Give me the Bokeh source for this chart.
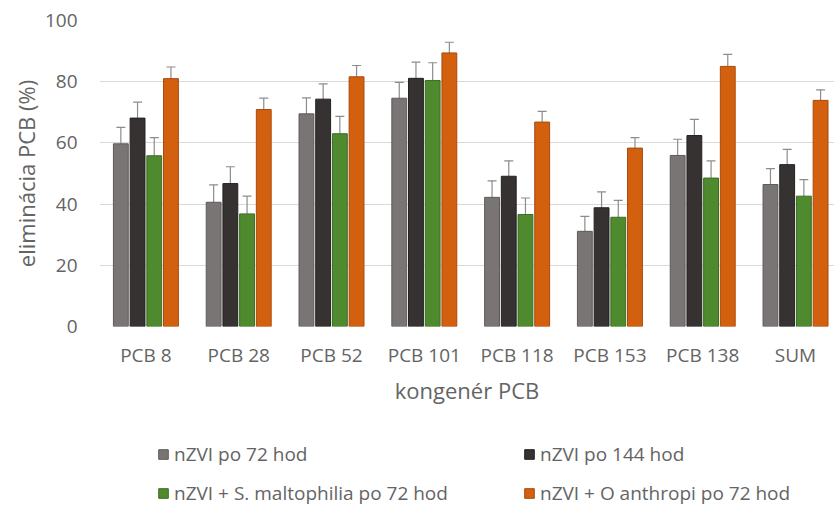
from bokeh.plotting import figure
from bokeh.layouts import column
from bokeh.models import (ColumnDataSource, Range1d, FixedTicker, Whisker, TeeHead,
                          Legend, LegendItem)
from bokeh.transform import dodge
from bokeh.embed import file_html
from bokeh.resources import INLINE

categories = ["PCB 8", "PCB 28", "PCB 52", "PCB 101", "PCB 118", "PCB 153", "PCB 138", "SUM"]
series_names = ["nZVI po 72 hod", "nZVI po 144 hod",
                "nZVI + S. maltophilia po 72 hod", "nZVI + O anthropi po 72 hod"]
nzvi_72 = [59.7, 40.6, 69.5, 74.6, 42.2, 31.1, 55.9, 46.4]
nzvi_144 = [68.1, 46.7, 74.3, 81.1, 49.1, 38.8, 62.4, 52.9]
nzvi_malto = [55.8, 36.8, 63.0, 80.4, 36.6, 35.7, 48.5, 42.6]
nzvi_anthropi = [81.0, 70.9, 81.6, 89.4, 66.8, 58.3, 85.0, 73.9]
err_72 = [5.4, 5.7, 5.2, 5.2, 5.4, 4.9, 5.3, 5.2]
err_144 = [5.2, 5.5, 5.0, 5.3, 5.0, 5.2, 5.3, 5.0]
err_malto = [5.9, 5.8, 5.7, 5.8, 5.4, 5.5, 5.6, 5.4]
err_anthropi = [3.8, 3.7, 3.7, 3.5, 3.5, 3.4, 3.9, 3.4]
y_ticks = [0, 20, 40, 60, 80, 100]

series = [nzvi_72, nzvi_144, nzvi_malto, nzvi_anthropi]
errors = [err_72, err_144, err_malto, err_anthropi]
fills = ["#7a7575", "#363232", "#4f8a2e", "#d2600f"]
lines = ["#5e5a5a", "#222020", "#3b6d22", "#a84a0a"]
offsets = [-0.27, -0.09, 0.09, 0.27]

FONT = "Open Sans"
TXT = "#646464"

p = figure(width=834, height=419, output_backend="svg", toolbar_location=None,
           x_range=Range1d(-0.5, 7.42), y_range=Range1d(0, 100),
           min_border_left=99, min_border_top=20, min_border_right=0, min_border_bottom=93)
p.outline_line_color = None
p.background_fill_color = "white"
p.border_fill_color = "white"

xs = list(range(len(categories)))
sources = []
for name, vals, errs, fc, lc, off in zip(series_names, series, errors, fills, lines, offsets):
    src = ColumnDataSource(dict(x=xs, top=vals,
                                upper=[v + e for v, e in zip(vals, errs)],
                                lower=[v - e for v, e in zip(vals, errs)]))
    sources.append(src)
    p.vbar(x=dodge("x", off, range=p.x_range), top="top", width=0.16, source=src,
           fill_color=fc, line_color=lc, line_width=1)
    w = Whisker(base=dodge("x", off, range=p.x_range), upper="upper", lower="lower",
                source=src, line_color="#8c8c8c", line_width=1.2,
                upper_head=TeeHead(size=9, line_color="#8c8c8c", line_width=1.2),
                lower_head=TeeHead(size=9, line_color="#8c8c8c", line_width=1, line_alpha=0.5))
    p.add_layout(w)

p.xgrid.grid_line_color = None
p.ygrid.grid_line_color = "#d9d9d9"
p.ygrid.grid_line_width = 1
p.yaxis.ticker = FixedTicker(ticks=y_ticks)
p.xaxis.ticker = FixedTicker(ticks=xs)
p.xaxis.major_label_overrides = {i: c for i, c in enumerate(categories)}

for ax in (p.xaxis[0], p.yaxis[0]):
    ax.axis_line_color = None
    ax.major_tick_line_color = None
    ax.minor_tick_line_color = None
    ax.major_tick_out = 0
    ax.major_tick_in = 0
    ax.minor_tick_out = 0
    ax.major_label_text_font = FONT
    ax.major_label_text_font_size = "19px"
    ax.major_label_text_color = TXT
    ax.axis_label_text_font = FONT
    ax.axis_label_text_font_size = "22px"
    ax.axis_label_text_font_style = "normal"
    ax.axis_label_text_color = TXT

p.yaxis.axis_label = "eliminácia PCB (%)"
p.yaxis.major_label_standoff = 22
p.yaxis.axis_label_standoff = 1
p.xaxis.axis_label = "kongenér PCB"
p.xaxis.major_label_standoff = 15
p.xaxis.axis_label_standoff = 4

# legend strip below the chart (its bars sit outside the visible y range)
lg = figure(width=834, height=87, output_backend="svg", toolbar_location=None,
            x_range=Range1d(-0.5, 7.42), y_range=Range1d(1000, 1001),
            min_border_left=0, min_border_right=0, min_border_top=0, min_border_bottom=0)
lg.axis.visible = False
lg.grid.visible = False
lg.outline_line_color = None
items = []
for name, src, fc, lc in zip(series_names, sources, fills, lines):
    r = lg.vbar(x="x", top="top", width=0.16, source=src,
                fill_color=fc, line_color=lc, line_width=1)
    items.append(LegendItem(label=name, renderers=[r]))


def make_legend(its, vy):
    return Legend(items=its, orientation="horizontal", location=(58, vy),
                  label_text_font=FONT, label_text_font_size="19px", label_text_color=TXT,
                  glyph_width=12, glyph_height=12, label_height=22, label_standoff=5,
                  label_width=280, spacing=69, padding=0, margin=0,
                  border_line_color=None, background_fill_alpha=0)


lg.add_layout(make_legend(items[:2], 39))
lg.add_layout(make_legend(items[2:], 0))

open("out.html", "w").write(file_html(column(p, lg, spacing=0), INLINE))
